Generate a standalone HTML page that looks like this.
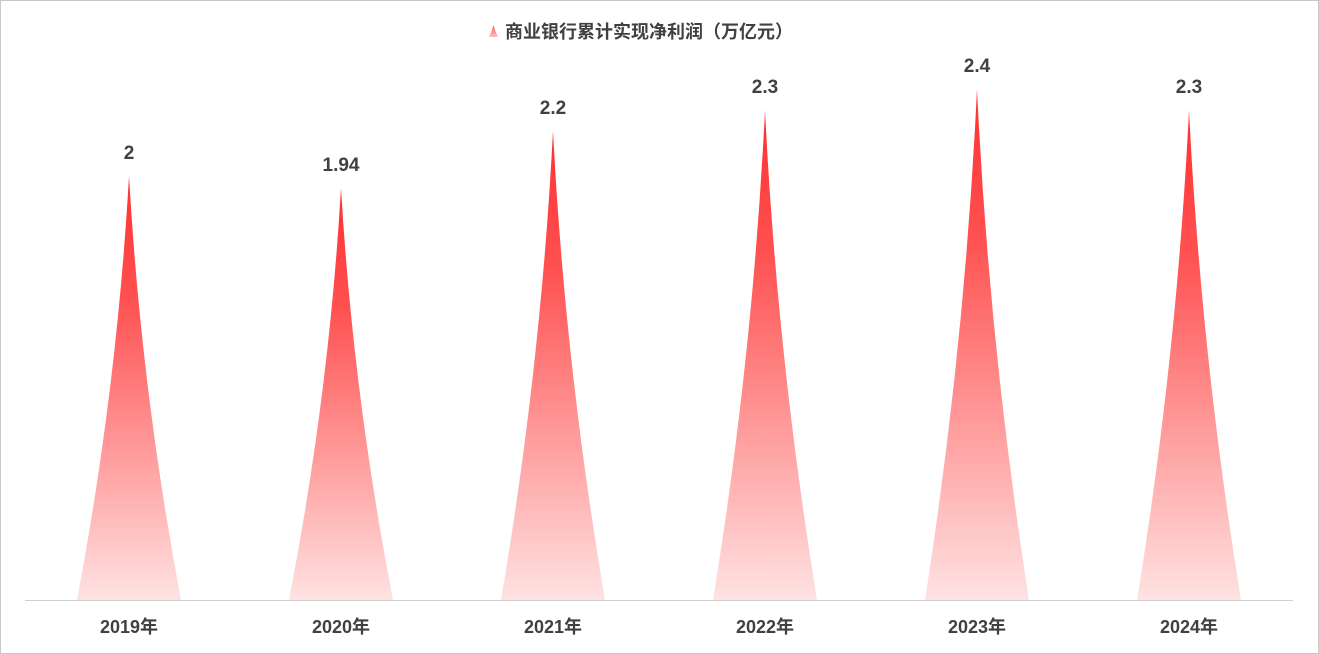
<!DOCTYPE html>
<html><head><meta charset="utf-8"><style>
html,body{margin:0;padding:0;background:#fff}
svg{display:block}
text{font-family:"Liberation Sans","Noto Sans CJK SC",sans-serif;font-weight:bold;fill:#404040}
</style></head><body>
<svg width="1319" height="654" viewBox="0 0 1319 654" xmlns="http://www.w3.org/2000/svg">
<defs>
<linearGradient id="g" x1="0" y1="0" x2="0" y2="1">
<stop offset="0" stop-color="#ff3030"/>
<stop offset="0.3" stop-color="#ff5252"/>
<stop offset="0.6" stop-color="#ff9090"/>
<stop offset="1" stop-color="#ffe2e2"/>
</linearGradient>
<linearGradient id="gi" x1="0" y1="0" x2="0" y2="1">
<stop offset="0" stop-color="#ff5050"/>
<stop offset="1" stop-color="#ffc0c0"/>
</linearGradient>
</defs>
<rect x="0.5" y="0.5" width="1318" height="653" fill="#fff" stroke="#c8c8c8"/>
<path d="M489,37 L498,37 Q495,31 493.5,25 Q492,31 489,37Z" fill="url(#gi)"/>
<text x="505" y="38" font-size="18">商业银行累计实现净利润（万亿元）</text>
<g>
<path d="M77,600 L181,600 Q141,388 129,176 Q117,388 77,600Z" fill="url(#g)"/>
<path d="M289,600 L393,600 Q353,394 341,188 Q329,394 289,600Z" fill="url(#g)"/>
<path d="M501,600 L605,600 Q565,365 553,131 Q541,365 501,600Z" fill="url(#g)"/>
<path d="M713,600 L817,600 Q777,355 765,110 Q753,355 713,600Z" fill="url(#g)"/>
<path d="M925,600 L1029,600 Q989,345 977,89 Q965,345 925,600Z" fill="url(#g)"/>
<path d="M1137,600 L1241,600 Q1201,355 1189,110 Q1177,355 1137,600Z" fill="url(#g)"/>
</g>
<line x1="25" y1="600.5" x2="1293" y2="600.5" stroke="#d0d0d0" stroke-width="1"/>
<g font-size="19" text-anchor="middle">
<text x="129" y="159">2</text>
<text x="341" y="171">1.94</text>
<text x="553" y="114">2.2</text>
<text x="765" y="93">2.3</text>
<text x="977" y="72">2.4</text>
<text x="1189" y="93">2.3</text>
</g>
<g font-size="18" text-anchor="middle">
<text x="129" y="633">2019年</text>
<text x="341" y="633">2020年</text>
<text x="553" y="633">2021年</text>
<text x="765" y="633">2022年</text>
<text x="977" y="633">2023年</text>
<text x="1189" y="633">2024年</text>
</g>
</svg>
</body></html>
